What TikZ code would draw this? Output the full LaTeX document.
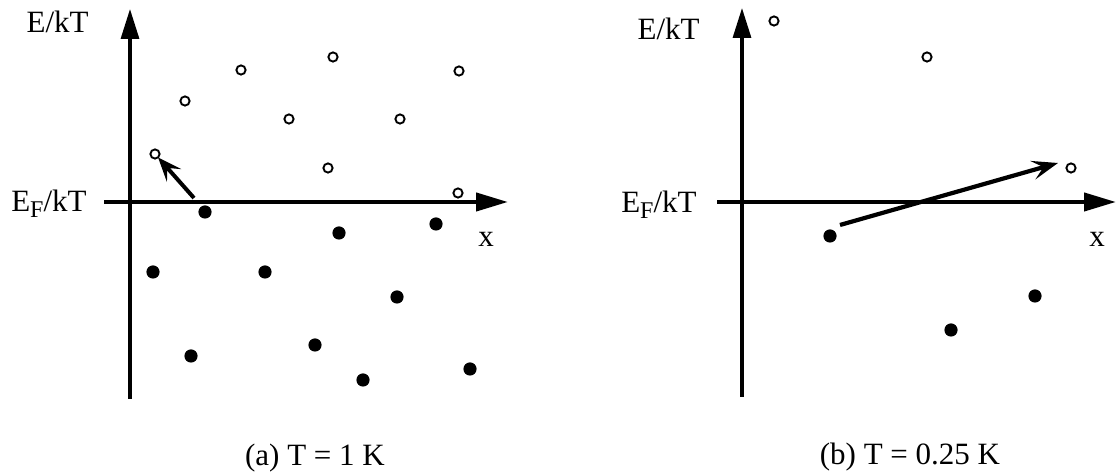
\documentclass[tikz,border=0pt]{standalone}
\usepackage{fontspec}
\setmainfont{Liberation Serif}
\usetikzlibrary{arrows.meta}
\begin{document}
\begin{tikzpicture}[x=0.5pt,y=-0.5pt,
  hol/.style={circle,draw,line width=0.95pt,minimum size=4.6pt,inner sep=0pt,outer sep=0pt},
  ful/.style={circle,fill,minimum size=6.6pt,inner sep=0pt,outer sep=0pt},
  vax/.style={line width=1.6pt,-{Triangle[length=15pt,width=9pt]}},
  hax/.style={line width=2.1pt,-{Triangle[length=16pt,width=9pt]}},
  jump/.style={line width=2.1pt,-{Stealth[length=13pt,width=9.5pt,inset=5.5pt]}},
  lab/.style={font=\fontsize{15.5}{18}\selectfont,inner sep=0pt},
  capt/.style={font=\fontsize{15.5}{18}\selectfont,inner sep=0pt,anchor=base}]
\useasboundingbox (0,0) rectangle (1116,474);

% ---------- panel (a) ----------
\coordinate (aB) at (130,399);
\coordinate (aT) at (130,9);
\coordinate (aL) at (104,202);
\coordinate (aR) at (508,202);
\draw[vax] (aB) -- (aT);
\draw[hax] (aL) -- (aR);

\node[lab,anchor=base east] (ya) at (89,33) {E/kT};
\node[lab,anchor=base east] (efa) at (87,212) {E\raisebox{-3pt}{\fontsize{12}{12}\selectfont F}/kT};
\node[lab] (xa) at (486,239) {x};

\node[hol] (h1) at (155,154) {};
\node[hol] (h2) at (185,101) {};
\node[hol] (h3) at (241,70) {};
\node[hol] (h4) at (333,57) {};
\node[hol] (h5) at (459,71) {};
\node[hol] (h6) at (289,119) {};
\node[hol] (h7) at (400,119) {};
\node[hol] (h8) at (328,168) {};
\node[hol] (h9) at (458,193) {};

\node[ful] (f1) at (205,212) {};
\node[ful] (f2) at (339,233) {};
\node[ful] (f3) at (436,224) {};
\node[ful] (f4) at (153,272) {};
\node[ful] (f5) at (265,272) {};
\node[ful] (f6) at (397,297) {};
\node[ful] (f7) at (191,356) {};
\node[ful] (f8) at (315,345) {};
\node[ful] (f9) at (363,380) {};
\node[ful] (f10) at (470,369) {};

\coordinate (ta) at (194,198);
\draw[line width=2pt,-{Stealth[length=12pt,width=9.5pt,inset=5pt]}] (ta) -- (h1);

\node[capt] (capa) at (315,466) {(a) T = 1 K};

% ---------- panel (b) ----------
\coordinate (bB) at (742,397);
\coordinate (bT) at (742,8);
\coordinate (bL) at (717,202);
\coordinate (bR) at (1116,202);
\draw[vax] (bB) -- (bT);
\draw[hax] (bL) -- (bR);

\node[lab,anchor=base east] (yb) at (700,40) {E/kT};
\node[lab,anchor=base east] (efb) at (697,213) {E\raisebox{-3pt}{\fontsize{12}{12}\selectfont F}/kT};
\node[lab] (xb) at (1097,239) {x};

\node[hol] (g1) at (774,21) {};
\node[hol] (g2) at (927,57) {};
\node[hol] (g3) at (1071,168) {};

\node[ful] (e1) at (830,236) {};
\node[ful] (e2) at (1035,296) {};
\node[ful] (e3) at (951,330) {};

\coordinate (tb) at (840,225);
\coordinate (hb) at (1058,163);
\draw[jump] (tb) -- (hb);

\node[capt] (capb) at (910,465) {(b) T = 0.25 K};
\end{tikzpicture}
\end{document}
